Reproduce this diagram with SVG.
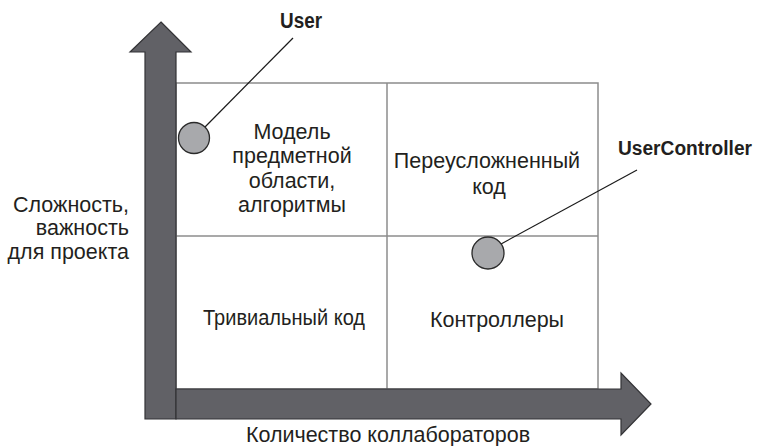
<svg xmlns="http://www.w3.org/2000/svg" width="759" height="446" viewBox="0 0 759 446">
<style>
.grid{stroke:#8c8c8c;stroke-width:1.5;fill:none}
.arrow{fill:#616166;stroke:#333336;stroke-width:1.2;stroke-linejoin:miter}
.dot{fill:#a8a9ac;stroke:#2a2a2a;stroke-width:1.3}
.lead{stroke:#1a1a1a;stroke-width:1.2;fill:none}
.t{font-family:"Liberation Sans",Arial,sans-serif;font-size:21.5px;fill:#231f20}
.b{font-family:"Liberation Sans",Arial,sans-serif;font-size:22px;font-weight:bold;fill:#231f20}
.bc{font-family:"Liberation Sans",Arial,sans-serif;font-size:19.5px;font-weight:bold;fill:#231f20}
</style>
<rect width="759" height="446" fill="#ffffff"/>
<g id="grid">
<rect class="grid" x="176" y="83" width="422" height="306"/>
<line class="grid" x1="387" y1="83" x2="387" y2="389"/>
<line class="grid" x1="176" y1="236" x2="598" y2="236"/>
</g>
<g id="axis-y">
<polygon class="arrow" points="161,22 191,52 176,52 176,419 145,419 145,52 130,52"/>
<text class="t" text-anchor="end"><tspan x="129" y="212">Сложность,</tspan><tspan x="129" y="235">важность</tspan><tspan x="129" y="259">для проекта</tspan></text>
</g>
<g id="axis-x">
<polygon class="arrow" points="176,389 621,389 621,373 651,404 621,435 621,419 176,419"/>
<text class="t" x="388" y="442" text-anchor="middle">Количество коллабораторов</text>
</g>
<g id="q-model">
<text class="t" text-anchor="middle"><tspan x="292" y="139">Модель</tspan><tspan x="292" y="163">предметной</tspan><tspan x="292" y="188">области,</tspan><tspan x="292" y="212">алгоритмы</tspan></text>
</g>
<g id="q-over">
<text class="t" text-anchor="middle"><tspan x="487" y="168">Переусложненный</tspan><tspan x="489" y="194">код</tspan></text>
</g>
<g id="q-trivial">
<text class="t" x="203" y="325" textLength="162" lengthAdjust="spacingAndGlyphs">Тривиальный код</text>
</g>
<g id="q-controllers">
<text class="t" x="497" y="327" text-anchor="middle">Контроллеры</text>
</g>
<g id="connectors">
<line class="lead" x1="205" y1="127" x2="293" y2="38"/>
<line class="lead" x1="501" y1="244" x2="637" y2="170"/>
</g>
<g id="user">
<circle class="dot" cx="194" cy="138" r="15.5"/>
<text class="b" x="280" y="28" textLength="42" lengthAdjust="spacingAndGlyphs">User</text>
</g>
<g id="usercontroller">
<circle class="dot" cx="488" cy="253" r="16"/>
<text class="bc" x="618" y="155" textLength="134" lengthAdjust="spacingAndGlyphs">UserController</text>
</g>
</svg>
